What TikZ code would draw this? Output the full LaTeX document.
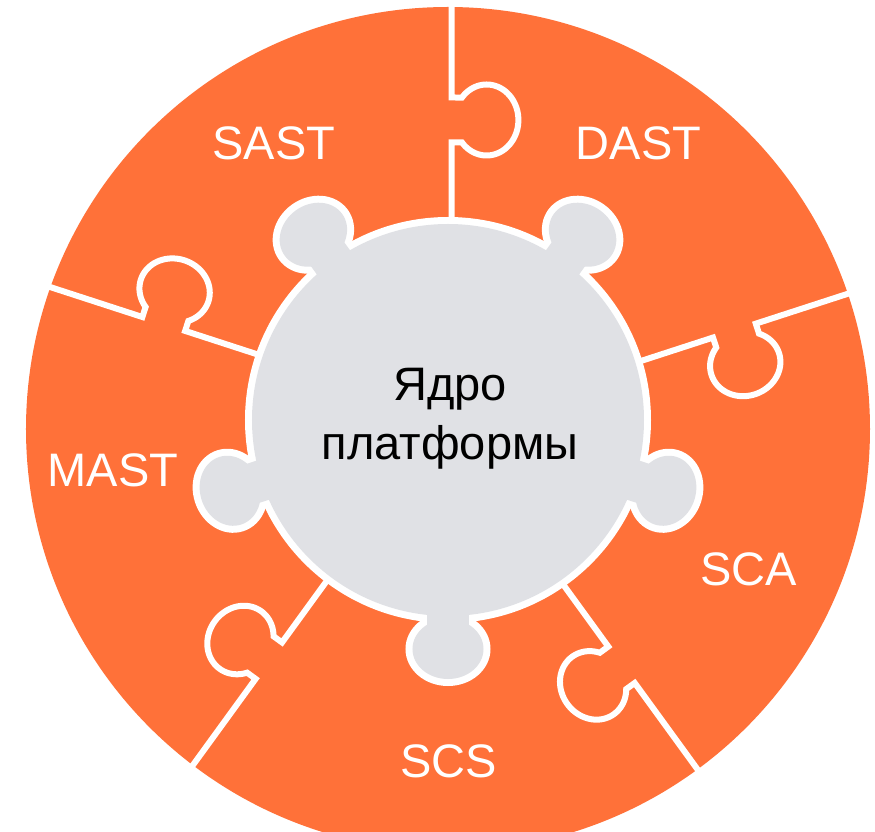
\documentclass[tikz,border=0pt]{standalone}
\usepackage{fontspec}
\setmainfont{Liberation Sans}
\definecolor{puzzleorange}{RGB}{255,113,57}
\definecolor{coregray}{RGB}{224,225,229}
\begin{document}
\begin{tikzpicture}[x=1pt,y=1pt,
  seam/.style={draw=white, line width=6pt},
  rim/.style={draw=white, fill=white, line width=14pt},
  pieceLabel/.style={text=white, font=\fontsize{47}{56}\selectfont, inner sep=0pt},
  coreText/.style={text=black, font=\fontsize{47}{59}\selectfont, align=center, inner sep=0pt}]
\clip (-448,-412) rectangle (427,420);
\fill[white] (-448,-412) rectangle (427,420);
% outer ring
\fill[puzzleorange] (0,-9) circle[radius=422];
% seams between pieces
\foreach \p in {90,18,-54,-126,162}{
  \draw[seam, rotate=\p] (180,-3.5) -- (277.5,-3.5)
    -- plot[domain=129.3:410.7, samples=90] ({300+35.5*cos(\x)},{-38.6+31.8*sin(\x)})
    -- (322.5,-3.5) -- (450,-3.5);
}
% core: white rim
\foreach \t in {-90,-18,54,126,198}{
  \draw[rim, rotate=\t] (229,0) ellipse[x radius=30, y radius=35.5];
  \draw[rim, rotate=\t] (190,-20.5) -- (212,-20.5) -- (212,20.5) -- (190,20.5) -- cycle;
}
\draw[rim] (0,0) circle[radius=196];
% core: gray body
\fill[coregray] (0,0) circle[radius=196];
\foreach \t in {-90,-18,54,126,198}{
  \fill[coregray, rotate=\t] (229,0) ellipse[x radius=30, y radius=35.5];
  \fill[coregray, rotate=\t] (190,-20.5) -- (212,-20.5) -- (212,20.5) -- (190,20.5) -- cycle;
}
\node[coreText] (core) at (2,1) {Ядро\\платформы};
\node[pieceLabel] (sast) at (-174,277) {SAST};
\node[pieceLabel] (dast) at (190.5,277) {DAST};
\node[pieceLabel] (sca) at (300.5,-149) {SCA};
\node[pieceLabel] (scs) at (0.5,-341) {SCS};
\node[pieceLabel] (mast) at (-335,-50) {MAST};
\end{tikzpicture}
\end{document}
